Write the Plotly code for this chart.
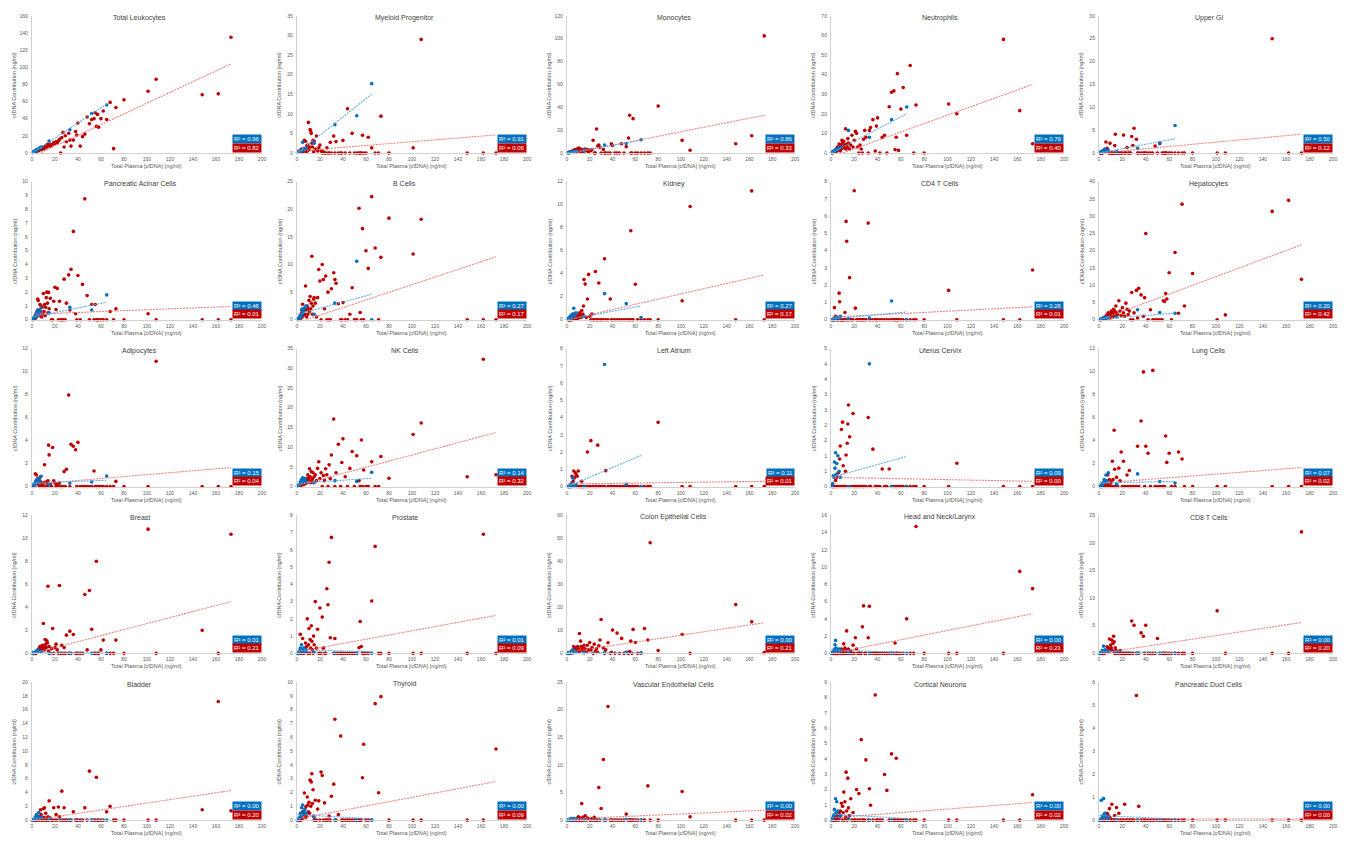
import math
import sys
import plotly.graph_objects as go

# ---------------------------------------------------------------- data
PANEL_TITLES = [
    "Total Leukocytes", "Myeloid Progenitor", "Monocytes", "Neutrophils", "Upper GI",
    "Pancreatic Acinar Cells", "B Cells", "Kidney", "CD4 T Cells", "Hepatocytes",
    "Adipocytes", "NK Cells", "Left Atrium", "Uterus Cervix", "Lung Cells",
    "Breast", "Prostate", "Colon Epithelial Cells", "Head and Neck/Larynx", "CD8 T Cells",
    "Bladder", "Thyroid", "Vascular Endothelial Cells", "Cortical Neurons", "Pancreatic Duct Cells",
]
Y_MAX = [160, 35, 120, 70, 30,
         10, 25, 12, 8, 40,
         12, 35, 8, 4.5, 12,
         12, 8, 60, 16, 25,
         20, 10, 25, 9, 6]
Y_DTICK = [20, 5, 20, 10, 5,
           1, 5, 2, 1, 5,
           2, 5, 1, 0.5, 2,
           2, 1, 10, 2, 5,
           2, 1, 5, 1, 1]
X_MAX = 200
X_DTICK = 20

R2_BLUE = [0.96, 0.91, 0.86, 0.79, 0.50,
           0.46, 0.27, 0.27, 0.26, 0.20,
           0.15, 0.14, 0.11, 0.09, 0.07,
           0.01, 0.01, 0.00, 0.00, 0.00,
           0.00, 0.00, 0.00, 0.00, 0.00]
R2_RED = [0.82, 0.06, 0.33, 0.40, 0.12,
          0.01, 0.17, 0.17, 0.01, 0.42,
          0.04, 0.32, 0.01, 0.00, 0.02,
          0.21, 0.09, 0.21, 0.21, 0.20,
          0.20, 0.09, 0.02, 0.02, 0.00]

# total plasma cfDNA (ng/ml) of the red group samples
RED_X = [173, 162, 148, 108, 101,
         80, 73, 71, 68, 65,
         62, 60, 58, 57, 56,
         55, 54, 52, 50, 48,
         46, 44, 42, 40, 39,
         38, 36, 34, 33, 32,
         30, 29, 28, 27, 26,
         25, 24, 23, 22, 21,
         20, 19, 18, 17, 16,
         15, 14.5, 14, 13.5, 13,
         12.5, 12, 11.5, 11, 10.5,
         10, 9.5, 9, 8.5, 8,
         7.5, 7, 6.5, 6, 5.5,
         5, 4.5, 4, 3.5, 3,
         2.5, 2, 1.5, 1]
# total plasma cfDNA (ng/ml) of the blue group samples
BLUE_X = [65, 52, 33, 15, 8, 7, 6, 5, 4.5, 4, 3.5, 3, 2.5, 2, 1.5, 1, 0.5]

RED_Y_TOTAL_LEUKOCYTES = [135, 69, 68, 86, 72,
    62, 53, 5, 59, 39, 49, 40, 30, 45, 31, 47, 40, 39, 34, 42,
    22, 19, 8, 35, 21, 25, 15, 8, 15, 23, 13, 20, 7, 24, 18,
    0, 16, 14, 12, 13, 11, 12, 10, 9, 8, 11, 9, 8, 10, 7,
    9, 8, 6, 7, 5, 7, 5, 6, 4, 5, 4, 5, 3, 4, 3,
    3, 2, 3, 2, 1.5, 1.5, 1, 0.8, 0.5]
RED_Y_MYELOID = [0, 0, 0, 29, 1.3,
    0, 9.4, 0, 0, 1.3, 4, 0, 0, 4.5, 0, 0, 0, 0, 0, 5,
    0, 11.3, 0, 3.2, 0, 0, 0, 2.9, 0, 4.3, 0, 2.7, 0, 0, 1.3,
    0, 0, 0.3, 0, 0.5, 2, 1.3, 0.5, 4.3, 1, 3, 0.3, 3.2, 1.5, 2.5,
    5, 5.6, 6, 1.5, 0.8, 7.8, 2, 0.5, 1.8, 0.3, 3, 1.2, 3.2, 0.5, 1,
    0.8, 0.2, 1, 0.5, 0.3, 0.6, 0.2, 0.3, 0.1]
RED_Y_MONOCYTES = [102.5, 15, 8, 2.3, 11,
    41, 0, 0, 0, 0, 0, 0, 30, 0, 0, 33, 13, 5.5, 0, 8,
    0, 0, 0, 6.6, 8, 0, 0, 0, 0, 3, 0, 5, 7, 6, 21,
    0, 0, 11, 3, 2, 2.5, 1, 3, 2, 3.5, 1.5, 2, 3, 1, 2.5,
    3, 2, 1.5, 4, 3, 4, 2, 3.5, 1, 2.5, 1.5, 3, 2, 1, 2,
    1, 1.5, 0.5, 1, 0.5, 0.8, 0.5, 0.3, 0.2]
RED_Y_NEUTROPHILS = [4.7, 21.6, 58, 20, 25,
    0, 24.5, 0, 44.7, 9, 33.4, 22.4, 1.3, 40.5, 8, 1.7, 31.7, 31, 23.6, 0,
    9, 8, 0, 17.9, 13.7, 1, 17, 13, 11.5, 0, 8, 11.5, 7, 0, 2,
    4, 0, 3, 10, 11, 6.4, 3, 9, 4, 2, 5, 7.3, 3, 4.5, 2,
    12.3, 4, 2.5, 6, 3, 5, 6.5, 2, 4, 1, 3, 4.5, 2, 1.5, 3,
    1, 2, 0.5, 1, 0.5, 0.3, 0.5, 0.2, 0]
RED_Y_UPPER_GI = [0, 0, 25, 0, 0,
    0, 0, 0, 0, 0, 0, 0, 0, 0, 0, 0, 0, 2.2, 0, 1.5,
    0, 0, 0, 0, 0, 0, 0, 0, 0, 3, 5.4, 1.6, 3.6, 0, 0,
    0, 1.2, 0, 0, 3.9, 0, 0, 0, 0, 0, 0, 0, 4.1, 1.6, 0,
    0, 0, 0, 0, 0, 0, 2.1, 0, 0, 0.5, 0.3, 1, 0.6, 2.4, 0.5,
    0.8, 0.3, 0.5, 0.2, 0, 0, 0, 0, 0]
RED_Y_PANCREATIC_ACINAR = [0, 0, 0, 0, 0.43,
    0, 0.8, 0, 0.6, 0, 0, 0, 0, 0, 0, 1.1, 0, 1.1, 0, 1.75,
    8.76, 2.56, 0, 3.2, 0, 0.43, 6.4, 3.66, 0.7, 3.25, 1.2, 0, 2.94, 0, 0,
    0, 1.34, 0, 2.27, 0.74, 2.35, 1.34, 0, 0, 1.55, 0.8, 1.98, 0.5, 1.2, 2,
    1.6, 0.9, 0.3, 1.1, 0.6, 1.9, 0.4, 0.9, 0.2, 1, 0.6, 1.1, 0.3, 0.7, 1.4,
    1.5, 0.6, 0.2, 0.4, 0.1, 0.2, 0.1, 0.1, 0]
RED_Y_B_CELLS = [0, 0, 0, 18.2, 11.9,
    18.4, 11.3, 0, 13, 22.3, 9.3, 12.5, 0, 16.5, 0, 1.3, 20.2, 0, 0, 5.8,
    1, 0, 0, 3.1, 0, 0, 2.9, 6.6, 7.3, 8.5, 5.6, 0, 0, 5, 0,
    7.9, 2, 7.3, 10, 0, 7, 9.1, 4, 0.5, 3, 4, 3.7, 2.5, 1, 11.5,
    3, 2, 4.2, 1.5, 3.5, 2, 1, 2.5, 0.5, 1.8, 6.1, 1, 2, 0.8, 1.5,
    2.8, 0.5, 1.2, 0.3, 0.5, 0.2, 0.3, 0.1, 0]
RED_Y_KIDNEY = [0, 11.2, 0, 9.84, 1.64,
    0, 0, 0, 0, 0, 0, 3.08, 0, 0, 7.74, 0, 0, 0, 0, 0,
    0, 0, 0, 0, 0, 1.8, 0, 0, 5.3, 0, 0, 0, 3.2, 0, 0,
    4.2, 0, 0, 0.5, 0, 0.3, 3.94, 1.8, 0.2, 3.1, 3.5, 1.2, 0.5, 0.3, 0.8,
    0.2, 0.5, 0.3, 0.6, 0.2, 0.4, 0.1, 0.3, 0.1, 0.2, 0.3, 0.1, 0.2, 0.5, 0.1,
    0.2, 0, 0.1, 0, 0, 0, 0, 0, 0]
RED_Y_CD4_T = [2.88, 0, 0, 0, 1.7,
    0, 0, 0, 0, 0, 0, 0, 0, 0, 0, 0, 0, 0, 0, 0,
    0, 0, 0, 0, 0, 0, 0, 0, 0, 5.6, 0, 0, 0, 0, 0,
    0, 0, 0, 0, 0.67, 7.48, 0, 0, 0, 2.44, 0, 0, 0, 4.55, 5.7,
    0, 0.42, 0, 0, 0, 0, 0, 0, 0, 0, 1.04, 1.54, 0, 0, 0,
    0.1, 0, 0.2, 0, 0.7, 0, 0, 0, 0]
RED_Y_HEPATOCYTES = [11.7, 34.6, 31.4, 1.4, 0,
    13.4, 4, 33.5, 1.9, 19.5, 0, 13.6, 6, 7.6, 5.3, 5.5, 0, 0, 0, 0,
    0, 2.9, 0, 25, 6.4, 1, 7.2, 9.1, 0.5, 8.5, 2, 0, 7.9, 0, 2.5,
    1.5, 3, 4.8, 1, 2, 3.5, 1.2, 2.5, 5.5, 1.5, 2, 4, 1, 2.5, 1.8,
    3, 0.8, 2, 1.2, 2.5, 1.5, 0.5, 1.8, 1, 2, 0.8, 1.5, 0.5, 1, 0.6,
    0.8, 0.3, 0.5, 0.2, 0.3, 0.1, 0.2, 0.1, 0]
RED_Y_ADIPOCYTES = [0, 0, 0, 10.9, 0,
    0, 0.45, 0, 0, 0, 0, 0, 0, 0, 0, 0, 1.35, 0, 0, 0,
    0, 0, 0, 3.84, 0, 3.2, 3.5, 3.67, 0, 7.95, 1.5, 0, 1.3, 0, 0,
    0, 0.3, 0, 0.2, 0, 0.3, 0.5, 3.4, 0, 0.2, 2.75, 3.6, 0.5, 0, 0.3,
    0, 0.4, 0, 1.9, 0, 0.3, 0, 0.2, 0, 0.4, 0.2, 0.8, 0, 0.3, 0.5,
    0.2, 0.6, 1.0, 0.3, 1.1, 0.2, 0.1, 0, 0]
RED_Y_NK_CELLS = [3, 32.3, 2.5, 16.1, 13.2,
    2.1, 7.6, 0, 0, 6.3, 0, 0, 4.2, 0, 11.8, 0, 1.5, 7.8, 0, 8.9,
    4.6, 0, 2.5, 12.1, 6.1, 0, 10.7, 3.5, 0, 17.1, 8, 2, 5.5, 0, 3,
    4.5, 1.5, 2.8, 0, 3.5, 2, 6.3, 4.6, 1.5, 3, 2.5, 1, 3.5, 2, 1.5,
    3.8, 1, 2.5, 4.5, 1.8, 2.2, 3, 1, 2, 1.5, 0.8, 2, 1.2, 0.5, 1,
    0.6, 1.2, 0.3, 0.5, 0.2, 0.3, 0.1, 0.2, 0]
RED_Y_LEFT_ATRIUM = [0, 0, 0, 0, 0,
    3.72, 0, 0, 0, 0, 0, 0, 0, 0, 0, 0, 0, 0, 0, 0,
    0, 0, 0, 0, 0, 0, 0, 0.92, 0, 0, 0, 0, 0, 2.4, 0,
    0, 0, 0, 0, 2.66, 0, 0, 2.0, 0, 0, 0, 0, 0, 0, 0.3,
    0, 0, 0, 0, 0, 0.9, 0, 0.6, 0, 0.7, 0.8, 0, 0.5, 0.9, 0.3,
    0, 0.6, 0, 0, 0, 0, 0, 0, 0]
RED_Y_UTERUS_CERVIX = [0, 0, 0, 0.76, 0,
    0, 0, 0, 0, 0, 0, 0, 0, 0, 0, 0, 0, 0, 0.57, 0,
    0, 0.57, 0, 0, 0, 0, 1.22, 0, 0, 2.25, 0, 0, 0, 0, 0,
    0, 0, 0, 0, 0, 0, 2.38, 0, 0, 1.62, 2.66, 2.04, 1.41, 0, 1.03,
    0.5, 0, 0, 0, 0.68, 2.1, 0, 1.86, 0, 1.32, 0.9, 0, 0.45, 0, 0,
    0.3, 0, 0.2, 0, 0, 0, 0, 0, 0]
RED_Y_LUNG = [0, 0, 0, 0, 0,
    0, 0, 2.4, 3.0, 0, 0, 2.9, 2.1, 4.4, 0, 0, 0, 0, 0, 0,
    10.1, 0, 2.9, 3.5, 0, 9.97, 5.7, 0, 3.5, 0, 0, 0, 0, 0, 1.4,
    0, 1.0, 0, 0, 2.2, 0, 3.0, 0.5, 1.6, 0, 0.8, 0, 0, 1.5, 4.9,
    0, 0.6, 2.2, 0, 0.4, 0.3, 0, 0.6, 0, 0.2, 1.0, 0, 0.3, 0.5, 0.2,
    0.3, 0, 0.1, 0, 0, 0, 0, 0, 0]
RED_Y_BREAST = [10.36, 0, 2, 0, 10.8,
    0, 1.15, 0, 0, 0, 1.15, 0.3, 0, 0, 8, 0, 0, 2.1, 5.47, 0.3,
    5.12, 0, 0, 0, 0, 0, 1.64, 0, 1.93, 0, 1.58, 0, 0.5, 0, 0.7,
    0, 5.9, 0, 0.3, 0.8, 0.5, 0, 2.16, 0.4, 0, 0.6, 0.2, 5.84, 0.9, 1.1,
    0.5, 0.8, 1.2, 0.3, 0.6, 2.6, 0.4, 0.7, 0.2, 0.5, 0.3, 0.6, 0.2, 0.4, 0.1,
    0.2, 0.1, 0.1, 0, 0, 0, 0, 0, 0]
RED_Y_PROSTATE = [0, 6.9, 0, 0, 0,
    0, 0, 0, 6.2, 3.03, 0, 0, 0, 0, 0.4, 1.85, 0.33, 0, 0, 0,
    0, 0, 0, 0, 0, 0, 0, 0, 0.86, 0, 6.72, 0.9, 5.28, 2.82, 3.74,
    0, 0, 0.3, 2.1, 0, 2.63, 0, 1.4, 0.3, 3.0, 0.5, 1.0, 0, 0.2, 0.7,
    1.6, 0.3, 0.8, 0, 1.44, 0.5, 0, 2.0, 0.4, 0.2, 0.6, 0.1, 0.3, 0, 0.2,
    0.86, 0.1, 0, 0.2, 1.1, 0, 0.1, 0, 0]
RED_Y_COLON = [0.3, 13.7, 21.2, 0, 8.2,
    1.2, 48.1, 5.8, 10.8, 0, 0, 4.7, 10.4, 0, 5.3, 0.8, 0, 0.5, 0, 6.5,
    0, 8.8, 0, 10.1, 0.5, 0, 4.6, 1.5, 0, 2.3, 14.7, 5.8, 3.3, 0.5, 2,
    1, 4, 0, 2.5, 1.5, 4.7, 1.5, 3.5, 0.5, 2, 3.5, 1, 2.5, 2, 1.5,
    3, 5.3, 1, 8.6, 0.5, 2, 3, 1, 2.5, 1.5, 0.5, 2, 1, 3, 0.5,
    1, 0.3, 0.8, 0.2, 0.5, 0.2, 0.1, 0, 0]
RED_Y_HEAD_NECK = [7.5, 9.5, 0, 0, 0,
    0, 14.7, 0, 0, 4.0, 0, 0, 0, 0, 0, 1.2, 0, 0, 0, 0,
    0, 0, 0, 0, 0, 0, 0, 0, 5.45, 1.8, 0, 0, 5.5, 3.07, 0,
    0, 0, 0, 0.5, 1.8, 0, 0.95, 0, 0.3, 0, 0.5, 0, 0, 2.6, 0.4,
    0, 0.6, 0, 1.1, 0.3, 0, 0.2, 0.5, 0, 0.3, 0.1, 0.4, 0, 0.2, 0,
    0.1, 0, 0.2, 0, 0, 0, 0, 0, 0]
RED_Y_CD8_T = [22, 0, 0, 0, 7.7,
    0, 0, 0, 0, 0, 0, 0, 0, 0, 0, 0, 0, 0, 2.7, 0,
    0, 0, 0, 5.1, 0, 3.1, 3.7, 0, 0, 0, 5.1, 0, 5.87, 0, 0,
    0, 0, 0, 0, 0, 0, 0, 0.5, 0, 0.3, 0, 0.5, 1, 0, 2.1,
    3.1, 1.8, 0.5, 2.4, 1.0, 1.5, 0.8, 2.6, 0.3, 1.0, 0.5, 1.2, 0.2, 0.6, 0.1,
    0.3, 0, 0.2, 0, 0, 0, 0, 0, 0]
RED_Y_BLADDER = [1.35, 17.2, 1.5, 0, 0,
    0, 0, 0, 2.0, 1.2, 0, 0, 0, 0, 6.2, 0, 0, 0, 7.1, 0,
    1.8, 0, 0, 0, 0, 0, 1.2, 0, 0, 0, 0, 0, 1.8, 0, 4.2,
    0, 0.5, 1.9, 0, 0.8, 0, 1.8, 0, 0, 0.3, 2.8, 0, 0.5, 0, 0.3,
    0, 1.0, 0, 1.8, 0.4, 1.65, 0, 0.3, 0, 0.8, 1.5, 0.2, 0, 0.5, 0.1,
    0.2, 0, 0.4, 0, 0.1, 0, 0, 0, 0]
RED_Y_THYROID = [5.16, 0, 0, 0, 0,
    0, 8.95, 1.99, 8.44, 0, 0, 0, 5.5, 3.07, 0, 0, 0, 0, 0, 0,
    0, 0, 0, 0, 0, 6.1, 0.4, 0, 7.31, 2.61, 1.73, 0, 0.3, 0, 0,
    0, 1.25, 0, 3.24, 3.48, 0, 1.4, 0.8, 0, 1.44, 0, 0.3, 2.2, 1.2, 3.36,
    2.76, 1.0, 2.9, 0.5, 1.3, 0.6, 1.1, 1.68, 0.3, 1.0, 0.2, 0.8, 1.97, 0.4, 0.5,
    0.6, 0.1, 0.3, 0, 0.2, 0, 0, 0, 0]
RED_Y_VASCULAR_ENDOTHELIAL = [0, 0, 0, 0.6, 5.2,
    0, 0, 6.2, 0, 0, 0, 0, 0, 0, 0, 0, 0, 1.1, 0, 0,
    0, 0, 0, 0, 0, 0, 20.6, 0, 0, 11.0, 2.1, 0, 5.9, 0, 0,
    0, 0.5, 0, 0.3, 0, 0, 0.2, 0.4, 0, 0.8, 0.2, 0, 0.5, 0, 3.0,
    0.3, 0, 0.4, 0, 0.2, 0.6, 0, 0.3, 0, 0.2, 0, 0.1, 0, 0.3, 0,
    0, 0, 0, 0, 0, 0, 0, 0, 0]
RED_Y_CORTICAL_NEURONS = [1.66, 0, 0, 0, 0,
    0, 0, 0, 0, 0, 0, 0, 0, 0, 4.04, 0, 0, 4.32, 0, 1.94,
    2.98, 0, 0, 0, 0, 8.16, 0, 0.97, 2.05, 0, 3.93, 0, 0, 0, 5.25,
    0, 1.73, 0, 2.0, 0, 0, 0.5, 0, 1.4, 0.3, 0.8, 2.74, 0, 0.6, 3.13,
    0.2, 1.2, 0, 1.83, 0.5, 0.9, 0, 1.1, 0.3, 0.6, 0.2, 0.5, 0, 0.3, 0.1,
    0.2, 0, 0.1, 0, 0, 0, 0, 0, 0]
RED_Y_PANCREATIC_DUCT = [0, 0, 0, 0, 0,
    0, 0, 0, 0, 0, 0, 0, 0, 0, 0, 0, 0, 0, 0, 0,
    0, 0, 0, 0, 0, 0, 0, 0.6, 0, 5.42, 0, 0, 0, 0, 0,
    0, 0, 0, 0.69, 0, 0, 0, 0, 0.3, 0, 0.55, 0, 0, 0.2, 0,
    0, 0, 0, 0.69, 0, 0, 0.1, 0.5, 0, 0.2, 0, 0.3, 0, 0.1, 0,
    0, 0, 0, 0, 0, 0, 0, 0, 0]

BLUE_Y_TOTAL_LEUKOCYTES = [56, 46, 27, 14, 7, 6, 5, 4, 4, 3.5, 3, 2.5, 2, 1.8, 1.2, 0.8, 0.4]
BLUE_Y_MYELOID = [17.7, 9.5, 7.2, 2.5, 1.2, 1.0, 0.8, 2.7, 0.6, 0.8, 0.5, 0.4, 0.3, 0.3, 0.2, 0.1, 0.1]
BLUE_Y_MONOCYTES = [11.5, 8.2, 7, 2, 1.5, 1.2, 1.0, 1.5, 0.8, 0.9, 0.6, 0.5, 0.4, 0.3, 0.2, 0.1, 0.1]
BLUE_Y_NEUTROPHILS = [23.5, 17, 8, 11.5, 3, 2.5, 2, 2, 1.5, 1.5, 1.2, 1, 0.8, 0.6, 0.4, 0.3, 0.2]
BLUE_Y_UPPER_GI = [6.0, 2.0, 1.0, 0.3, 0.5, 0.3, 0.6, 0.8, 0.4, 0.3, 0.5, 0.2, 0.3, 0.1, 0.2, 0.1, 0.1]
BLUE_Y_PANCREATIC_ACINAR = [1.8, 0.7, 0.9, 0.5, 0.85, 0.6, 0.4, 0.7, 0.3, 0.5, 0.2, 0.3, 0.2, 0.15, 0.1, 0.1, 0.05]
BLUE_Y_B_CELLS = [0, 10.6, 3, 1, 2.5, 2.2, 1.5, 2, 1, 1.8, 0.5, 0.8, 0.5, 0.3, 0.2, 0.2, 0.1]
BLUE_Y_KIDNEY = [0.2, 1.4, 2.27, 0.3, 0.6, 0.4, 1.0, 0.5, 0.3, 0.4, 0.2, 0.3, 0.1, 0.2, 0.1, 0.05, 0.05]
BLUE_Y_CD4_T = [0, 1.09, 0.1, 0.05, 0.2, 0.1, 0.1, 0.15, 0.05, 0.1, 0.05, 0.05, 0, 0.05, 0, 0, 0]
BLUE_Y_HEPATOCYTES = [1.9, 2.1, 2.9, 0.8, 0.6, 0.5, 0.8, 0.4, 0.6, 0.3, 0.2, 0.4, 0.2, 0.1, 0.1, 0.1, 0.05]
BLUE_Y_ADIPOCYTES = [0.92, 0.4, 0.3, 0.2, 0.9, 0.5, 0.6, 0.7, 0.4, 0.3, 0.5, 0.2, 0.3, 0.2, 0.1, 0.1, 0.05]
BLUE_Y_NK_CELLS = [3.6, 1.3, 1.5, 1.0, 1.2, 2.0, 1.5, 2.2, 1.0, 1.8, 0.8, 1.2, 0.6, 0.5, 0.3, 0.2, 0.1]
BLUE_Y_LEFT_ATRIUM = [0, 0.13, 7.07, 0, 0.1, 0, 0.05, 0.5, 0, 0.2, 0.1, 0, 0, 0, 0, 0, 0]
BLUE_Y_UTERUS_CERVIX = [0, 0, 4.0, 0, 0.3, 0.5, 1.0, 0.75, 0.4, 1.1, 0.6, 0.8, 0.3, 0.35, 0.1, 0.05, 0]
BLUE_Y_LUNG = [0.3, 0.43, 1.1, 0.2, 1.2, 0.5, 1.0, 0.4, 0.6, 0.3, 0.2, 0.3, 0.1, 0.1, 0, 0, 0]
BLUE_Y_BREAST = [0, 0, 0, 0, 0.2, 0.1, 0.1, 0.3, 0.1, 0.2, 0.1, 0.1, 0.05, 0.1, 0.05, 0, 0]
BLUE_Y_PROSTATE = [0, 0, 0, 0.05, 0.2, 0.1, 0.3, 0.2, 0.1, 0.5, 0.1, 0.3, 0.1, 0.05, 0, 0, 0]
BLUE_Y_COLON = [0.2, 0.3, 0.3, 0.2, 0.5, 1.0, 0.3, 1.5, 0.4, 0.6, 0.2, 0.5, 0.3, 0.2, 0.1, 0.1, 0]
BLUE_Y_HEAD_NECK = [0, 0, 0, 0, 0.3, 0.5, 0.3, 0.4, 0.6, 1.5, 1.0, 0.5, 0.3, 0.2, 0.1, 0.1, 0]
BLUE_Y_CD8_T = [0, 0, 0, 0.1, 0.3, 0.4, 0.5, 0.6, 0.5, 1.3, 0.3, 0.5, 0.2, 0.1, 0.1, 0, 0]
BLUE_Y_BLADDER = [0, 0, 0, 0.2, 0.4, 0.3, 1.1, 0.5, 0.4, 0.8, 0.3, 0.5, 0.2, 0.1, 0, 0, 0]
BLUE_Y_THYROID = [0, 0, 0, 0.2, 0.5, 0.8, 0.6, 1.1, 0.4, 0.9, 0.3, 0.5, 0.2, 0.1, 0.1, 0, 0]
BLUE_Y_VASCULAR_ENDOTHELIAL = [0, 0.1, 0, 0, 0.2, 0.1, 0.3, 0.2, 0.1, 0.3, 0.1, 0.2, 0.1, 0, 0, 0, 0]
BLUE_Y_CORTICAL_NEURONS = [0, 0, 0, 0.1, 0.3, 0.2, 0.6, 1.2, 0.5, 1.4, 0.4, 0.7, 0.3, 0.2, 0.1, 0, 0]
BLUE_Y_PANCREATIC_DUCT = [0, 0, 0, 0, 0.1, 0, 0.2, 0.3, 0.1, 0.94, 0.2, 0.1, 0.1, 0.86, 0, 0, 0]

# linear trend lines: value at the smallest and largest x of each group
RED_TREND_START = [-4, 0.5, -1, -2, 0, 0.4, -0.5, 0, 0.15, 0,
                   0.2, 0.3, 0.15, 0.3, 0.3, 0, 0.1, 0.5, 0, 0,
                   0, 0.1, 0.2, 0.15, 0.05]
RED_TREND_END = [104, 4.6, 33, 35, 4.1, 0.96, 11.4, 3.9, 0.75, 21.7,
                 1.65, 13.7, 0.3, 0.17, 1.65, 4.5, 2.2, 13.3, 4.6, 5.6,
                 4.3, 2.8, 1.8, 1.15, 0.05]
BLUE_TREND_START = [0, 0, 0, 0, 0, 0.2, 1.0, 0, 0.05, 0.3,
                    0.3, 0.8, 0, 0.3, 0.3, 0.1, 0.2, 0.3, 0.4, 0.4,
                    0.3, 0.4, 0.15, 0.4, 0.2]
BLUE_TREND_END = [57, 15, 11, 20, 3.1, 1.27, 4.6, 1.2, 0.45, 1.9,
                  0.55, 2.1, 1.8, 0.98, 0.45, 0.1, 0.1, 0.2, 0.1, 0.1,
                  0.1, 0.1, 0.05, 0.1, 0.05]

RED_Y = [RED_Y_TOTAL_LEUKOCYTES, RED_Y_MYELOID, RED_Y_MONOCYTES, RED_Y_NEUTROPHILS, RED_Y_UPPER_GI,
         RED_Y_PANCREATIC_ACINAR, RED_Y_B_CELLS, RED_Y_KIDNEY, RED_Y_CD4_T, RED_Y_HEPATOCYTES,
         RED_Y_ADIPOCYTES, RED_Y_NK_CELLS, RED_Y_LEFT_ATRIUM, RED_Y_UTERUS_CERVIX, RED_Y_LUNG,
         RED_Y_BREAST, RED_Y_PROSTATE, RED_Y_COLON, RED_Y_HEAD_NECK, RED_Y_CD8_T,
         RED_Y_BLADDER, RED_Y_THYROID, RED_Y_VASCULAR_ENDOTHELIAL, RED_Y_CORTICAL_NEURONS,
         RED_Y_PANCREATIC_DUCT]
BLUE_Y = [BLUE_Y_TOTAL_LEUKOCYTES, BLUE_Y_MYELOID, BLUE_Y_MONOCYTES, BLUE_Y_NEUTROPHILS, BLUE_Y_UPPER_GI,
          BLUE_Y_PANCREATIC_ACINAR, BLUE_Y_B_CELLS, BLUE_Y_KIDNEY, BLUE_Y_CD4_T, BLUE_Y_HEPATOCYTES,
          BLUE_Y_ADIPOCYTES, BLUE_Y_NK_CELLS, BLUE_Y_LEFT_ATRIUM, BLUE_Y_UTERUS_CERVIX, BLUE_Y_LUNG,
          BLUE_Y_BREAST, BLUE_Y_PROSTATE, BLUE_Y_COLON, BLUE_Y_HEAD_NECK, BLUE_Y_CD8_T,
          BLUE_Y_BLADDER, BLUE_Y_THYROID, BLUE_Y_VASCULAR_ENDOTHELIAL, BLUE_Y_CORTICAL_NEURONS,
          BLUE_Y_PANCREATIC_DUCT]

# ---------------------------------------------------------------- layout / style
W, H = 1354, 844
COL_X0 = [31, 297, 568, 833, 1102]
COL_X1 = [262, 528, 797, 1067, 1337]
ROW_TOP = [13, 180, 348, 516, 684]
ROW_BOT = [151, 319, 487, 655, 823]

FONT = "Arial, Liberation Sans, sans-serif"
RED = "#C00000"
BLUE = "#0070C0"
RED_TREND = "rgba(232,110,110,0.85)"
BLUE_TREND = "rgba(90,170,228,0.95)"
AXIS_LINE = "#D0D0D0"
TEXT_GRAY = "#595959"


def excel_label(v):
    return str(int(math.floor(v + 0.5 + 1e-9)))


fig = go.Figure()
layout = dict(
    width=W, height=H, autosize=False,
    margin=dict(l=0, r=0, t=0, b=0),
    paper_bgcolor="white", plot_bgcolor="white",
    showlegend=False,
    font=dict(family=FONT, color=TEXT_GRAY, size=5),
)
annotations = []

for i in range(25):
    r, c = divmod(i, 5)
    sfx = "" if i == 0 else str(i + 1)
    xref, yref = "x" + sfx, "y" + sfx

    ry = RED_Y[i]
    n = min(len(RED_X), len(ry))
    if n != len(RED_X) or n != len(ry):
        print("length mismatch red", i, len(ry), file=sys.stderr)
    by = BLUE_Y[i]
    nb = min(len(BLUE_X), len(by))
    if nb != len(BLUE_X) or nb != len(by):
        print("length mismatch blue", i, len(by), file=sys.stderr)

    fig.add_trace(go.Scatter(
        x=RED_X[:n], y=ry[:n], mode="markers", xaxis=xref, yaxis=yref,
        marker=dict(color=RED, size=3.6, line=dict(width=0)),
        cliponaxis=False, hoverinfo="skip"))
    fig.add_trace(go.Scatter(
        x=BLUE_X[:nb], y=by[:nb], mode="markers", xaxis=xref, yaxis=yref,
        marker=dict(color=BLUE, size=3.6, line=dict(width=0)),
        cliponaxis=False, hoverinfo="skip"))
    # trend lines
    fig.add_trace(go.Scatter(
        x=[min(RED_X), max(RED_X)], y=[RED_TREND_START[i], RED_TREND_END[i]],
        mode="lines", xaxis=xref, yaxis=yref,
        line=dict(color=RED_TREND, width=1.1, dash="2px,1px"), hoverinfo="skip"))
    fig.add_trace(go.Scatter(
        x=[min(BLUE_X), max(BLUE_X)], y=[BLUE_TREND_START[i], BLUE_TREND_END[i]],
        mode="lines", xaxis=xref, yaxis=yref,
        line=dict(color=BLUE_TREND, width=1.1, dash="2px,1px"), hoverinfo="skip"))

    ymax, dt = Y_MAX[i], Y_DTICK[i]
    nt = int(round(ymax / dt))
    tv = [k * dt for k in range(nt + 1)]
    layout["xaxis" + sfx] = dict(
        domain=[COL_X0[c] / W, COL_X1[c] / W], anchor=yref,
        range=[0, X_MAX], tickmode="linear", tick0=0, dtick=X_DTICK,
        showgrid=False, zeroline=False, showline=True, linecolor=AXIS_LINE, linewidth=1,
        ticks="", tickfont=dict(size=5, color=TEXT_GRAY, family=FONT), ticklabelstandoff=1,
        fixedrange=True)
    layout["yaxis" + sfx] = dict(
        domain=[(H - ROW_BOT[r]) / H, (H - ROW_TOP[r]) / H], anchor=xref,
        range=[0, ymax], tickmode="array", tickvals=tv, ticktext=[excel_label(v) for v in tv],
        showgrid=False, zeroline=False, showline=True, linecolor=AXIS_LINE, linewidth=1,
        ticks="", tickfont=dict(size=5, color=TEXT_GRAY, family=FONT), ticklabelstandoff=2,
        fixedrange=True)

    xd, yd = xref + " domain", yref + " domain"
    annotations.append(dict(
        text=PANEL_TITLES[i], xref=xd, yref=yd, x=0.5, y=1, xshift=-7, yshift=-2,
        xanchor="center", yanchor="middle", showarrow=False,
        font=dict(size=7, color="#404040", family=FONT)))
    annotations.append(dict(
        text="Total Plasma [cfDNA] (ng/ml)", xref=xd, yref=yd, x=0.5, y=0, yshift=-13,
        xanchor="center", yanchor="middle", showarrow=False,
        font=dict(size=5.5, color=TEXT_GRAY, family=FONT)))
    annotations.append(dict(
        text="cfDNA Contribution (ng/ml)", xref=xd, yref=yd, x=0, y=0.5, xshift=-17.5,
        xanchor="center", yanchor="middle", textangle=-90, showarrow=False,
        font=dict(size=5.5, color=TEXT_GRAY, family=FONT)))
    annotations.append(dict(
        text="R² = %.2f" % R2_BLUE[i], xref=xd, yref=yd, x=1, y=0.10,
        xanchor="right", yanchor="middle", showarrow=False, bgcolor=BLUE,
        borderpad=1, font=dict(size=6, color="white", family=FONT)))
    annotations.append(dict(
        text="R² = %.2f" % R2_RED[i], xref=xd, yref=yd, x=1, y=0.038,
        xanchor="right", yanchor="middle", showarrow=False, bgcolor=RED,
        borderpad=1, font=dict(size=6, color="white", family=FONT)))

layout["annotations"] = annotations
fig.update_layout(**layout)
fig.write_html("out.html")
